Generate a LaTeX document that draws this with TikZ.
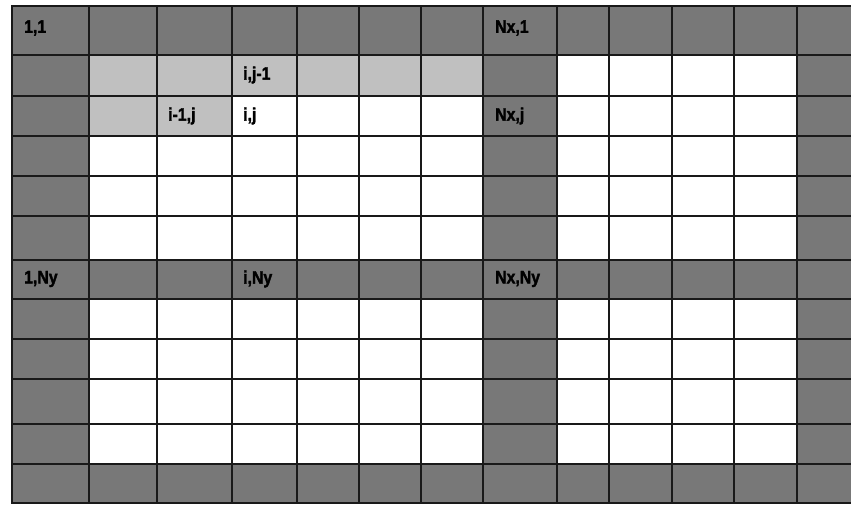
\documentclass[tikz,border=0pt]{standalone}
\usepackage{fontspec}
\setmainfont{Liberation Sans}
\newfontfamily\lblfont[FakeBold=2]{Liberation Sans Bold}
\definecolor{darkcell}{RGB}{120,120,120}
\definecolor{lightcell}{RGB}{192,192,192}
\tikzset{
  lbl/.style={anchor=west, inner sep=0pt, font=\lblfont\fontsize{18}{18}\selectfont, xscale=0.88, text=black},
  gridline/.style={line width=1.3pt, draw=black!90},
  border/.style={line width=2.6pt, draw=black!90}
}
\begin{document}
\begin{tikzpicture}[x=1pt,y=-1pt]
\useasboundingbox (0,0) rectangle (851,506);
\begin{scope}
\clip (0,0) rectangle (851,506);
% background of the grid
\fill[white] (12,6) rectangle (853,503);
% dark boundary cells
\fill[darkcell] (12,6) rectangle (853,55);
\fill[darkcell] (12,260) rectangle (853,299);
\fill[darkcell] (12,464) rectangle (853,503);
\fill[darkcell] (12,6) rectangle (89,503);
\fill[darkcell] (483,6) rectangle (557,503);
\fill[darkcell] (797,6) rectangle (853,503);
% light stencil cells
\fill[lightcell] (89,55) rectangle (483,96);
\fill[lightcell] (89,96) rectangle (232,136);
% grid lines
\foreach \x in {89,157,232,297,359,421,483,557,609,672,734,797}
  \draw[gridline] (\x,6) -- (\x,503);
\foreach \y in {55,96,136,176,216,260,299,339,379,424,464}
  \draw[gridline] (12,\y) -- (853,\y);
% outer border
\draw[border] (853,6) -- (12,6) -- (12,503) -- (853,503);
\end{scope}
% labels
\node[lbl] (n11)   at (24,28)  {1,1};
\node[lbl] (nNx1)  at (495,28) {Nx,1};
\node[lbl] (nij1)  at (243,75) {i,j-1};
\node[lbl] (ni1j)  at (168,116) {i-1,j};
\node[lbl] (nij)   at (243,116) {i,j};
\node[lbl] (nNxj)  at (495,116) {Nx,j};
\node[lbl] (n1Ny)  at (24,279) {1,Ny};
\node[lbl] (niNy)  at (243,279) {i,Ny};
\node[lbl] (nNxNy) at (495,279) {Nx,Ny};
\end{tikzpicture}
\end{document}
